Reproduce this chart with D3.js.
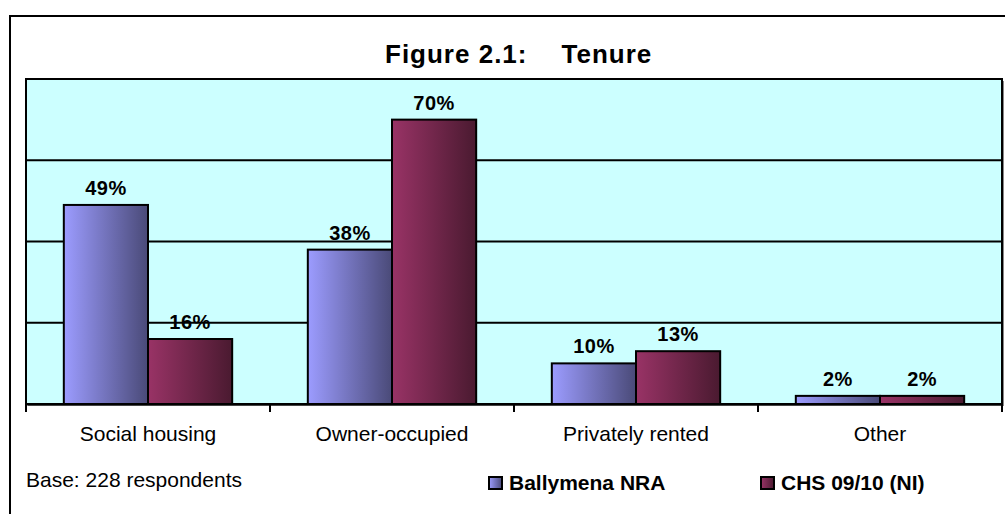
<!DOCTYPE html>
<html>
<head>
<meta charset="utf-8">
<script src="https://cdn.jsdelivr.net/npm/d3@7"></script>
<style>
  body { margin: 0; background: #fff; }
  svg { font-family: "Liberation Sans", Arial, sans-serif; }
</style>
</head>
<body>
<div id="chart"></div>
<script>
const categories = ["Social housing", "Owner-occupied", "Privately rented", "Other"]
const seriesNames = ["Ballymena NRA", "CHS 09/10 (NI)"]
const ballymena = [49, 38, 10, 2]
const chs = [16, 70, 13, 2]
const gridValues = [20, 40, 60, 80]

const width = 1005, height = 514
const plot = { left: 26, top: 79, right: 1002, bottom: 404 }

const svg = d3.select('#chart').append('svg')
  .attr('width', width)
  .attr('height', height)

const defs = svg.append('defs')
const grads = [
  { id: 'gBlue', from: '#9c9cff', to: '#4a4a78' },
  { id: 'gRed', from: '#993366', to: '#4a1a30' }
]
grads.forEach(g => {
  const lg = defs.append('linearGradient').attr('id', g.id)
    .attr('x1', '0%').attr('x2', '100%').attr('y1', '0%').attr('y2', '0%')
  lg.append('stop').attr('offset', '0%').attr('stop-color', g.from)
  lg.append('stop').attr('offset', '100%').attr('stop-color', g.to)
})

// outer frame
svg.append('rect')
  .attr('x', 10).attr('y', 16)
  .attr('width', 1000).attr('height', 520)
  .attr('fill', 'none').attr('stroke', '#000').attr('stroke-width', 2)

const title = svg.append('text')
  .attr('x', 385).attr('y', 63)
  .style('font-size', '26px').style('font-weight', 'bold')
  .style('letter-spacing', '1px')
title.append('tspan').text('Figure 2.1:')
title.append('tspan').attr('dx', 34).text('Tenure')

const x = d3.scaleBand()
  .domain(categories)
  .range([plot.left, plot.right])
  .paddingInner(0.31)
  .paddingOuter(0.155)

const xs = d3.scaleBand()
  .domain(seriesNames)
  .range([0, x.bandwidth()])

const y = d3.scaleLinear()
  .domain([0, 80])
  .range([plot.bottom, plot.top])

// shadow + plot background
svg.append('rect')
  .attr('x', plot.left + 2).attr('y', plot.top + 2)
  .attr('width', plot.right - plot.left).attr('height', plot.bottom - plot.top)
  .attr('fill', '#888')
svg.append('rect')
  .attr('x', plot.left).attr('y', plot.top)
  .attr('width', plot.right - plot.left).attr('height', plot.bottom - plot.top)
  .attr('fill', '#ccffff')

svg.append('g').selectAll('line')
  .data(gridValues.slice(0, -1))
  .join('line')
  .attr('x1', plot.left).attr('x2', plot.right)
  .attr('y1', d => y(d)).attr('y2', d => y(d))
  .attr('stroke', '#000').attr('stroke-width', 2)

const rows = categories.map((c, i) => ({ cat: c, values: [ballymena[i], chs[i]] }))

const groups = svg.append('g').selectAll('g')
  .data(rows)
  .join('g')
  .attr('transform', d => `translate(${x(d.cat)},0)`)

groups.selectAll('rect')
  .data(d => d.values.map((v, j) => ({ name: seriesNames[j], v, j })))
  .join('rect')
  .attr('x', d => xs(d.name))
  .attr('y', d => y(d.v))
  .attr('width', xs.bandwidth())
  .attr('height', d => y(0) - y(d.v))
  .attr('fill', d => `url(#${grads[d.j].id})`)
  .attr('stroke', '#000').attr('stroke-width', 2)

groups.selectAll('text')
  .data(d => d.values.map((v, j) => ({ name: seriesNames[j], v })))
  .join('text')
  .attr('x', d => xs(d.name) + xs.bandwidth() / 2)
  .attr('y', d => y(d.v) - 10)
  .attr('text-anchor', 'middle')
  .style('font-size', '20px').style('font-weight', 'bold')
  .style('letter-spacing', '0.5px')
  .text(d => d.v + '%')

// plot frame
svg.append('rect')
  .attr('x', plot.left).attr('y', plot.top)
  .attr('width', plot.right - plot.left).attr('height', plot.bottom - plot.top)
  .attr('fill', 'none').attr('stroke', '#000').attr('stroke-width', 2)

// x axis
const xAxis = d3.axisBottom(x).tickSize(0).tickPadding(22)
const axisG = svg.append('g')
  .attr('transform', `translate(0,${plot.bottom})`)
  .call(xAxis)
axisG.select('.domain').attr('stroke', '#000').attr('stroke-width', 2)
axisG.selectAll('text')
  .style('font-size', '21px')
  .style('font-family', '"Liberation Sans", Arial, sans-serif')
  .attr('fill', '#000')

const step = x.step()
const tickXs = d3.range(categories.length + 1).map(i => plot.left + i * step)
svg.append('g').selectAll('line')
  .data(tickXs)
  .join('line')
  .attr('x1', d => d).attr('x2', d => d)
  .attr('y1', plot.bottom).attr('y2', plot.bottom + 8)
  .attr('stroke', '#000').attr('stroke-width', 2)

svg.append('text')
  .attr('x', 26).attr('y', 487)
  .style('font-size', '21px')
  .text('Base: 228 respondents')

// legend
const legendX = [489, 761]
const legend = svg.append('g').selectAll('g')
  .data(seriesNames)
  .join('g')
  .attr('transform', (d, i) => `translate(${legendX[i]},477)`)
legend.append('rect')
  .attr('width', 13).attr('height', 12)
  .attr('fill', (d, i) => `url(#${grads[i].id})`)
  .attr('stroke', '#000').attr('stroke-width', 2)
legend.append('text')
  .attr('x', 20).attr('y', 13)
  .style('font-size', '21px').style('font-weight', 'bold')
  .text(d => d)
</script>
</body>
</html>
